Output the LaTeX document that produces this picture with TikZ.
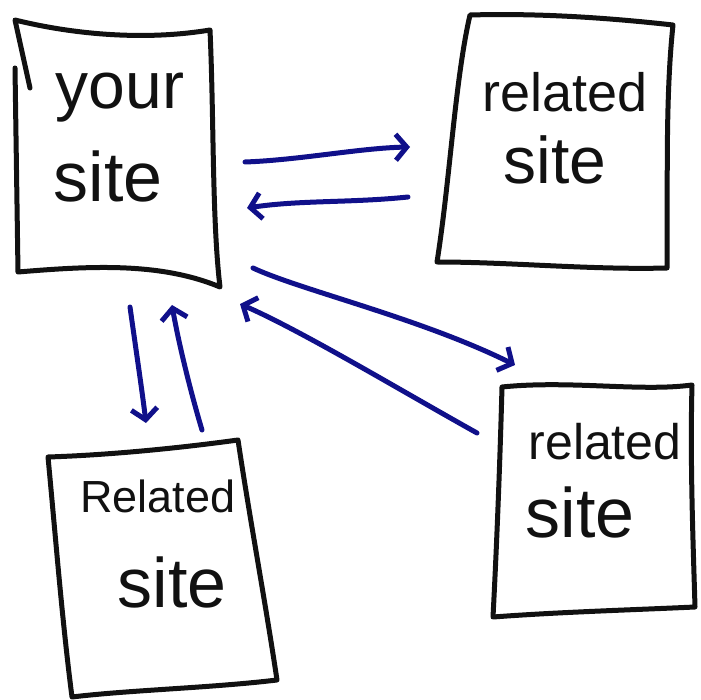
\documentclass[tikz,border=0pt]{standalone}
\usepackage{fontspec}
\setmainfont{Liberation Sans}
\usetikzlibrary{arrows.meta}
\definecolor{ink}{HTML}{111111}
\definecolor{pen}{HTML}{10108A}
\tikzset{
  sheet/.style={draw=ink, line width=5pt, line join=round, line cap=round},
  word/.style={text=ink, inner sep=0pt, anchor=center},
  link/.style={draw=pen, line width=5pt, line cap=round,
    -{Straight Barb[length=11pt,width=26pt]}}
}
\newcommand{\hand}[1]{\fontsize{#1}{#1}\selectfont}
\begin{document}
\begin{tikzpicture}[x=1pt,y=-1pt]
\useasboundingbox (0,0) rectangle (701,700);

% ---- corners of the four sheets ----
\coordinate (a1) at (15,20);   \coordinate (a2) at (210,30);
\coordinate (a3) at (220,287); \coordinate (a4) at (18,272);
\coordinate (b1) at (470,15);  \coordinate (b2) at (673,25);
\coordinate (b3) at (667,268); \coordinate (b4) at (437,262);
\coordinate (c1) at (502,387); \coordinate (c2) at (692,385);
\coordinate (c3) at (695,607); \coordinate (c4) at (493,617);
\coordinate (d1) at (48,457);  \coordinate (d2) at (238,440);
\coordinate (d3) at (277,680); \coordinate (d4) at (72,697);

% ---- sheets ----
\draw[sheet] (30,88) -- (a1) .. controls (80,36) and (150,40) .. (a2)
  .. controls (214,120) and (212,220) .. (a3)
  .. controls (160,262) and (90,266) .. (a4) -- (15,68);
\draw[sheet] (b1) .. controls (540,13) and (610,18) .. (b2)
  .. controls (665,100) and (668,190) .. (b3)
  .. controls (590,270) and (510,262) .. (b4)
  .. controls (450,180) and (455,80) .. cycle;
\draw[sheet] (c1) .. controls (570,380) and (640,392) .. (c2)
  .. controls (690,460) and (693,540) .. (c3)
  .. controls (630,610) and (560,612) .. (c4)
  .. controls (497,540) and (500,460) .. cycle;
\draw[sheet] (d1) .. controls (110,455) and (180,448) .. (d2)
  .. controls (250,520) and (265,600) .. (d3)
  .. controls (210,688) and (130,690) .. (d4)
  .. controls (62,620) and (55,530) .. cycle;

% ---- words on the sheets ----
\node[word] (you)  at (120,98)  {\hand{66}your};
\node[word] (ysit) at (108,176) {\hand{70}site};
\node[word] (r1)   at (565,92)  {\hand{54}related};
\node[word] (s1)   at (555,160) {\hand{66}site};
\node[word] (r2)   at (605,442) {\hand{50}related};
\node[word] (s2)   at (580,512) {\hand{70}site};
\node[word] (r3)   at (158,496) {\hand{45}Related};
\node[word] (s3)   at (172,582) {\hand{70}site};

% ---- arrow end points ----
\coordinate (p1) at (245,162); \coordinate (q1) at (410,147);
\coordinate (p2) at (408,197); \coordinate (q2) at (247,208);
\coordinate (p3) at (253,268); \coordinate (q3) at (515,365);
\coordinate (p4) at (477,433); \coordinate (q4) at (240,304);
\coordinate (p5) at (130,307); \coordinate (q5) at (146,423);
\coordinate (p6) at (202,430); \coordinate (q6) at (172,305);

% ---- links ----
\draw[link] (p1) .. controls (300,160) and (360,148) .. (q1);
\draw[link] (p2) .. controls (350,203) and (300,200) .. (q2);
\draw[link] (p3) .. controls (300,290) and (420,318) .. (q3);
\draw[link] (p4) .. controls (400,390) and (300,330) .. (q4);
\draw[link] (p5) .. controls (136,350) and (142,390) .. (q5);
\draw[link] (p6) .. controls (190,390) and (178,340) .. (q6);
\end{tikzpicture}
\end{document}
